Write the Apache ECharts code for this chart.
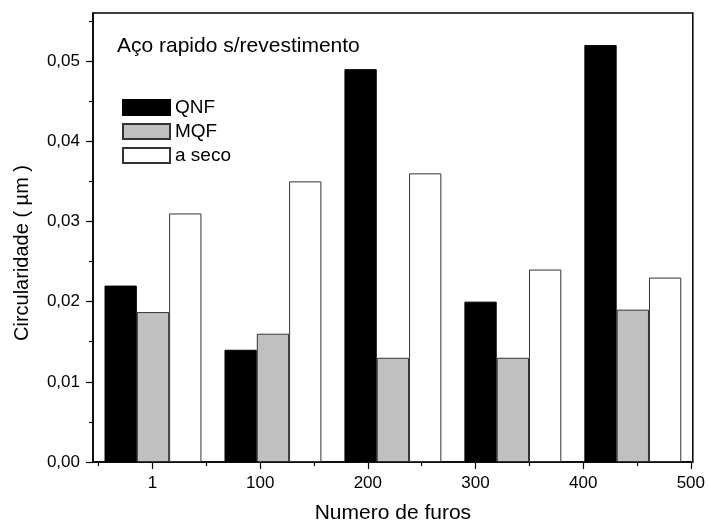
<!DOCTYPE html>
<html>
<head>
<meta charset="utf-8">
<script src="https://cdn.jsdelivr.net/npm/echarts@6/dist/echarts.min.js"></script>
<style>html,body{margin:0;padding:0;background:#fff}#c{width:708px;height:529px}</style>
</head>
<body>
<div id="c"></div>
<script>
// bar groups (5 groups of three bars)
const groups = ['g1', 'g2', 'g3', 'g4', 'g5'];
const qnf   = [0.022, 0.014, 0.049, 0.020, 0.052];
const mqf   = [0.0187, 0.016, 0.013, 0.013, 0.019];
const seco  = [0.031, 0.035, 0.036, 0.024, 0.023];
// bottom axis tick values and their labels
const xTickValues = [0, 100, 200, 300, 400, 500];
const xTickLabels = ['1', '100', '200', '300', '400', '500'];
const xMinorTicks = [-50, 50, 150, 250, 350, 450];
// y axis ticks
const yTickValues = [0, 0.01, 0.02, 0.03, 0.04, 0.05];
const yMinorTicks = [0.005, 0.015, 0.025, 0.035, 0.045, 0.055];

const FONT = 'Liberation Sans, Arial, sans-serif';
const chart = echarts.init(document.getElementById('c'), null, {renderer: 'canvas'});
const barBase = {type: 'bar', xAxisIndex: 0, yAxisIndex: 0, barWidth: 32.3, barGap: '0%'};

chart.setOption({
  animation: false,
  backgroundColor: '#fff',
  grid: {left: 93, right: 10, top: 13, bottom: 61, show: true, borderColor: '#000', borderWidth: 1.5, backgroundColor: 'transparent'},
  legend: {
    orient: 'vertical', left: 117, top: 93, itemWidth: 47, itemHeight: 15, itemGap: 5,
    icon: 'rect',
    textStyle: {fontFamily: FONT, fontSize: 19, color: '#000', padding: [0, 0, 0, 0]},
    data: ['QNF', 'MQF', 'a seco']
  },
  graphic: [
    {type: 'text', left: 117, top: 36, style: {text: 'Aço rapido s/revestimento', font: '21px ' + FONT, fill: '#000'}},
    {type: 'text', x: 22, y: 253, rotation: Math.PI / 2, style: {text: 'Circularidade ( µm )', font: '20px ' + FONT, fill: '#000', align: 'center', verticalAlign: 'middle'}}
  ],
  xAxis: [
    {type: 'category', data: groups, boundaryGap: true, show: false},
    {type: 'value', min: -55.25, max: 501.84, position: 'bottom',
     axisLine: {show: true, onZero: false, lineStyle: {color: '#000', width: 1.5}},
     axisTick: {show: true, inside: false, length: 7, lineStyle: {color: '#000', width: 1.2}, customValues: xTickValues},
     axisLabel: {show: true, margin: 13, fontFamily: FONT, fontSize: 17, color: '#000', customValues: xTickValues,
                 formatter: v => xTickLabels[xTickValues.indexOf(Math.round(v))] || ''},
     splitLine: {show: false},
     name: 'Numero de furos', nameLocation: 'middle', nameGap: 41,
     nameTextStyle: {fontFamily: FONT, fontSize: 21, color: '#000'}},
    {type: 'value', min: -55.25, max: 501.84, position: 'bottom',
     axisLine: {show: false, onZero: false},
     axisTick: {show: true, inside: false, length: 4, lineStyle: {color: '#000', width: 1.2}, customValues: xMinorTicks},
     axisLabel: {show: false}, splitLine: {show: false}}
  ],
  yAxis: [
    {type: 'value', min: 0, max: 0.056, position: 'left',
     axisLine: {show: true, onZero: false, lineStyle: {color: '#000', width: 1.5}},
     axisTick: {show: true, inside: false, length: 7, lineStyle: {color: '#000', width: 1.2}, customValues: yTickValues},
     axisLabel: {show: true, margin: 13, fontFamily: FONT, fontSize: 17, color: '#000', customValues: yTickValues,
                 formatter: v => v.toFixed(2).replace('.', ',')},
     splitLine: {show: false}},
    {type: 'value', min: 0, max: 0.056, position: 'left',
     axisLine: {show: false, onZero: false},
     axisTick: {show: true, inside: false, length: 4, lineStyle: {color: '#000', width: 1.2}, customValues: yMinorTicks},
     axisLabel: {show: false}, splitLine: {show: false}}
  ],
  series: [
    Object.assign({}, barBase, {name: 'QNF', data: qnf, itemStyle: {color: '#000', borderColor: '#000', borderWidth: 1}}),
    Object.assign({}, barBase, {name: 'MQF', data: mqf, itemStyle: {color: '#c0c0c0', borderColor: '#333', borderWidth: 1}}),
    Object.assign({}, barBase, {name: 'a seco', data: seco, itemStyle: {color: '#fff', borderColor: '#333', borderWidth: 1}})
  ]
});
</script>
</body>
</html>
